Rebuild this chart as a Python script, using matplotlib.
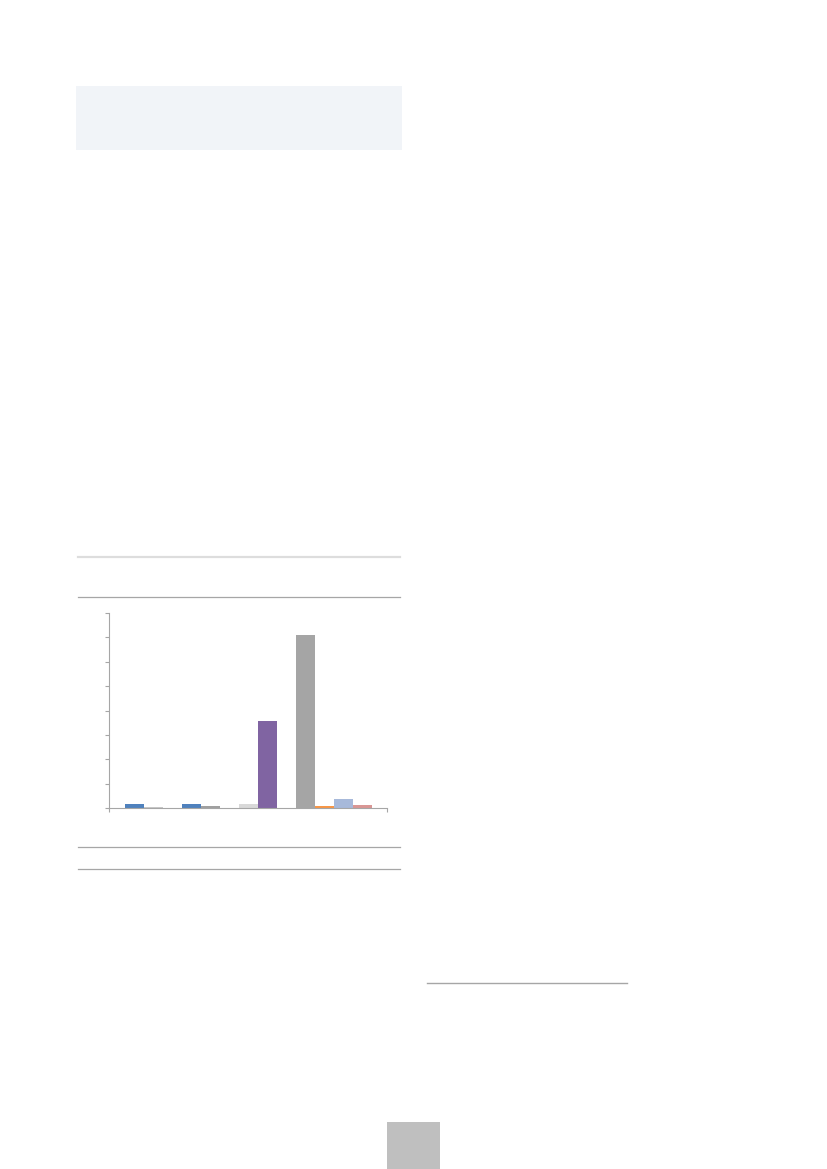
import numpy as np
import matplotlib
matplotlib.use("Agg")
from matplotlib import pyplot as plt
from matplotlib.patches import Rectangle
from matplotlib.lines import Line2D

W, H = 827, 1169

# one category, thirteen series slots (blank slots are missing series)
SLOTS = list(range(13))
VALUES = [0.16, 0.05, 0, 0.16, 0.09, 0, 0.17, 3.58, 0, 7.11, 0.09, 0.39, 0.13]
COLOURS = ["#4F81BD", "#C8C8C8", "white", "#4F81BD", "#A0A0A0", "white",
           "#D9D9D9", "#8064A2", "white", "#A5A5A5", "#F79646", "#A7B9DA", "#D99694"]

def px(x0, y0, x1, y1):
    # pixel box (top-left origin) -> figure fraction [l, b, w, h]
    return [x0 / W, 1 - y1 / H, (x1 - x0) / W, (y1 - y0) / H]

fig = plt.figure(figsize=(W / 100, H / 100), dpi=100)
fig.patch.set_facecolor("white")

# page decorations
l, b, w, h = px(76, 86, 402, 150)
fig.add_artist(Rectangle((l, b), w, h, transform=fig.transFigure, color="#F1F4F8", lw=0))

def hline(y, x0, x1, colour, lw):
    fig.add_artist(Line2D([x0 / W, x1 / W], [1 - y / H, 1 - y / H],
                          transform=fig.transFigure, color=colour, lw=lw))

hline(557, 78, 400, "#DDDDDD", 1.6)
hline(597.3, 78, 400, "#A6A6A6", 0.9)
hline(847.3, 78, 400, "#A6A6A6", 0.9)
hline(869, 78, 400, "#A6A6A6", 0.9)
hline(983, 427, 627, "#A6A6A6", 1.0)

l, b, w, h = px(387, 1122, 440, 1169)
fig.add_artist(Rectangle((l, b), w, h, transform=fig.transFigure, color="#BFBFBF", lw=0))

# the chart
ax = fig.add_axes(px(109.3, 613, 387, 808.3))
for s, v, c in zip(SLOTS, VALUES, COLOURS):
    if v > 0:
        ax.bar(s, v, 1.0, color=c, edgecolor="none")

ax.set_xlim(-1.3, 13.3)
ax.set_ylim(0, 8)
ax.set_yticks(np.arange(0, 9, 1))
ax.set_yticklabels([])
ax.set_xticks([-1.3, 13.3])
ax.set_xticklabels([])
for side in ["top", "right"]:
    ax.spines[side].set_visible(False)
for side in ["left", "bottom"]:
    ax.spines[side].set_color("#A6A6A6")
    ax.spines[side].set_linewidth(0.8)
ax.tick_params(axis="both", direction="out", length=3, width=0.8, color="#A6A6A6")
ax.set_facecolor("none")

plt.savefig("out.png", dpi=100)
